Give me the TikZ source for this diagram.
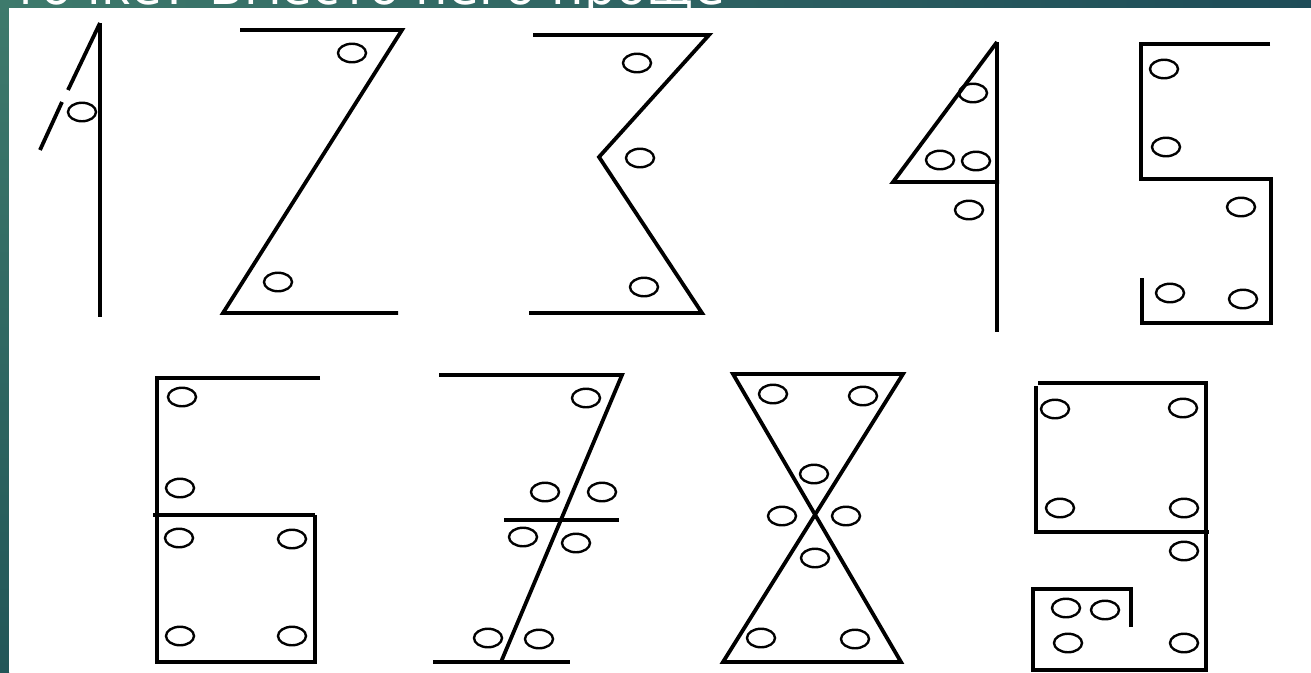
\documentclass[tikz,border=0pt]{standalone}
\usepackage{fontspec}
\setmainfont{DejaVu Sans}
\usetikzlibrary{shapes.geometric}
\definecolor{tealA}{RGB}{62,122,108}
\definecolor{tealB}{RGB}{30,76,88}
\definecolor{tealC}{RGB}{34,86,88}
\tikzset{
  stroke/.style={line width=3.8pt, line join=miter},
  hole/.style={draw, ellipse, line width=2.4pt, minimum width=28pt, minimum height=18.5pt, inner sep=0pt},
}
\begin{document}
\begin{tikzpicture}[x=1pt,y=-1pt]
\useasboundingbox (0,0) rectangle (1311,672);
% background bands
\fill[left color=tealA, right color=tealB] (0,0) rectangle (1311,9);
\fill[top color=tealA, bottom color=tealC] (0,0) rectangle (9,672);
\node[anchor=base east, text=white, font=\fontsize{50}{50}\selectfont, inner sep=0pt] (title) at (725,4) {точке? Вместо него проще};
\fill[white] (8.5,8) rectangle (1311,672);

% digit 1
\draw[stroke] (100,23) -- (100,317);
\draw[stroke] (100,23) -- (68,90);
\draw[stroke] (62,102) -- (40,150);
\node[hole] (h1a) at (82,112) {};

% digit 2
\draw[stroke] (240,30) -- (402,30) -- (223,313) -- (398,313);
\node[hole] (h2a) at (352,53) {};
\node[hole] (h2b) at (278,282) {};

% digit 3
\draw[stroke] (533,35) -- (709,35) -- (599,157) -- (702,313) -- (529,313);
\node[hole] (h3a) at (637,63) {};
\node[hole] (h3b) at (640,158) {};
\node[hole] (h3c) at (644,287) {};

% digit 4
\draw[stroke] (997,42) -- (997,332);
\draw[stroke] (997,42) -- (893,182) -- (999,182);
\node[hole] (h4a) at (973,93) {};
\node[hole] (h4b) at (940,160) {};
\node[hole] (h4c) at (976,161) {};
\node[hole] (h4d) at (969,210) {};

% digit 5
\draw[stroke] (1270,44) -- (1141,44) -- (1141,179) -- (1271,179) -- (1271,323) -- (1142,323) -- (1142,278);
\node[hole] (h5a) at (1164,69) {};
\node[hole] (h5b) at (1166,147) {};
\node[hole] (h5c) at (1241,207) {};
\node[hole] (h5d) at (1170,293) {};
\node[hole] (h5e) at (1243,299) {};

% digit 6
\draw[stroke] (320,378) -- (157,378) -- (157,662) -- (315,662) -- (315,515);
\draw[stroke] (153,515) -- (315,515);
\node[hole] (h6a) at (182,397) {};
\node[hole] (h6b) at (180,488) {};
\node[hole] (h6c) at (179,538) {};
\node[hole] (h6d) at (292,539) {};
\node[hole] (h6e) at (180,636) {};
\node[hole] (h6f) at (292,636) {};

% digit 7
\draw[stroke] (439,375) -- (622,375) -- (501,662);
\draw[stroke] (433,662) -- (570,662);
\draw[stroke] (504,520) -- (619,520);
\node[hole] (h7a) at (586,398) {};
\node[hole] (h7b) at (545,492) {};
\node[hole] (h7c) at (602,492) {};
\node[hole] (h7d) at (523,537) {};
\node[hole] (h7e) at (576,543) {};
\node[hole] (h7f) at (488,638) {};
\node[hole] (h7g) at (539,639) {};

% digit 8
\draw[stroke] (723,662) -- (903,374) -- (733,374) -- (901,662) -- cycle;
\node[hole] (h8a) at (773,394) {};
\node[hole] (h8b) at (863,396) {};
\node[hole] (h8c) at (814,474) {};
\node[hole] (h8d) at (782,516) {};
\node[hole] (h8e) at (846,516) {};
\node[hole] (h8f) at (815,558) {};
\node[hole] (h8g) at (761,638) {};
\node[hole] (h8h) at (855,639) {};

% digit 9
\draw[stroke] (1036,386) -- (1036,532) -- (1209,532);
\draw[stroke] (1038,383) -- (1206,383) -- (1206,672);
\draw[stroke] (1131,627) -- (1131,589) -- (1033,589) -- (1033,672);
\draw[stroke] (1033,670) -- (1206,670);
\node[hole] (h9a) at (1055,409) {};
\node[hole] (h9b) at (1183,408) {};
\node[hole] (h9c) at (1060,508) {};
\node[hole] (h9d) at (1184,508) {};
\node[hole] (h9e) at (1184,551) {};
\node[hole] (h9f) at (1066,608) {};
\node[hole] (h9g) at (1105,610) {};
\node[hole] (h9h) at (1068,643) {};
\node[hole] (h9i) at (1184,643) {};
\end{tikzpicture}
\end{document}
